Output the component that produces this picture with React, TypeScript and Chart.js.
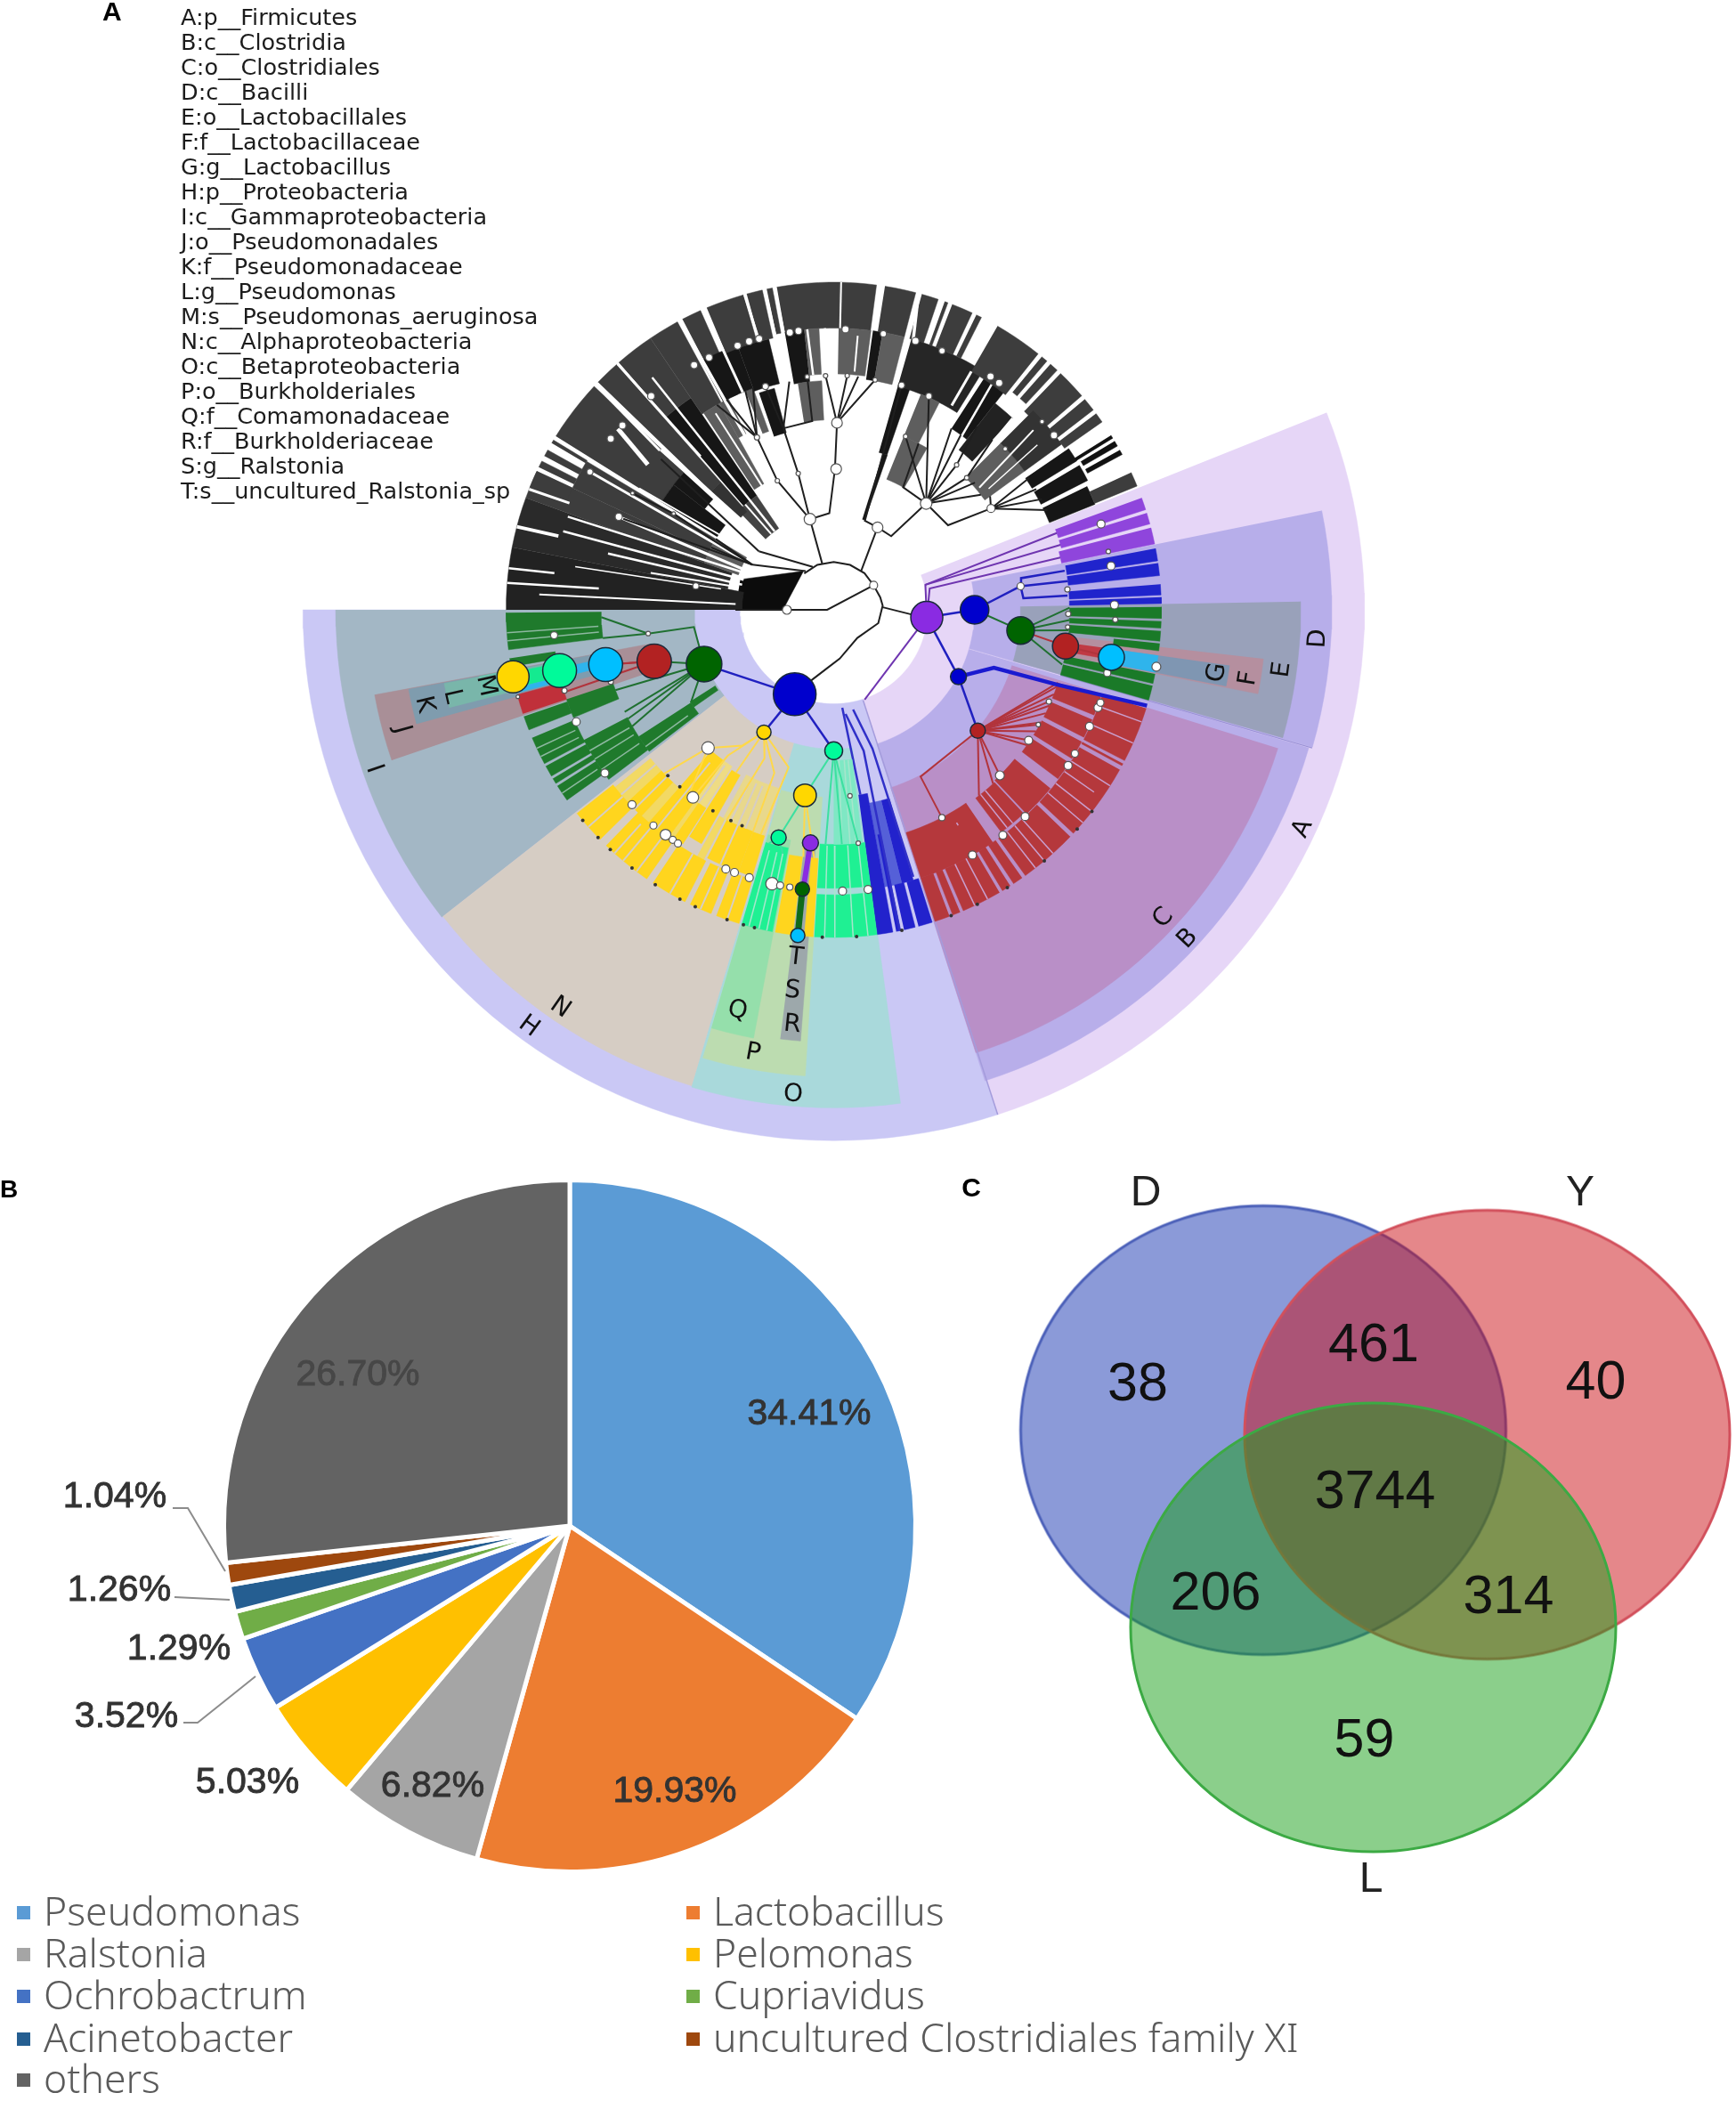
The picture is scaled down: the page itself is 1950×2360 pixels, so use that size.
import React, { useEffect, useRef } from "react";
import { Chart, registerables } from "chart.js";

Chart.register(...registerables);

/* ---------- Panel A: taxon key ---------- */
const taxonKey = [
  "A:p__Firmicutes", "B:c__Clostridia", "C:o__Clostridiales", "D:c__Bacilli", "E:o__Lactobacillales",
  "F:f__Lactobacillaceae", "G:g__Lactobacillus", "H:p__Proteobacteria", "I:c__Gammaproteobacteria",
  "J:o__Pseudomonadales", "K:f__Pseudomonadaceae", "L:g__Pseudomonas", "M:s__Pseudomonas_aeruginosa",
  "N:c__Alphaproteobacteria", "O:c__Betaproteobacteria", "P:o__Burkholderiales", "Q:f__Comamonadaceae",
  "R:f__Burkholderiaceae", "S:g__Ralstonia", "T:s__uncultured_Ralstonia_sp",
];

/* clade shading: [start angle, end angle, inner radius, outer radius, colour]; radius 1 = leaves */
const cladeSectors: any[] = [
  [21.8, -72, 0.287, 1.62, "#e6d6f7"],
  [-72, -180, 0.287, 1.62, "#cac8f5"],
  [11.5, -16, 0.43, 1.52, "#b7aeea"],
  [-16.2, -72.2, 0.43, 1.51, "#b8aeea"],
  [-17.3, -72.2, 0.57, 1.42, "#b98fc7"],
  [1, -15.9, 0.57, 1.425, "#99a1ba"],
  [-6.5, -11.2, 0.716, 1.32, "#b58f9f"],
  [-8, -11, 0.86, 1.22, "#7f96b2"],
  [-180, -141.9, 0.425, 1.52, "#a3b7c5"],
  [-141.9, -106.6, 0.425, 1.516, "#d6cdc4"],
  [-106.6, -82.3, 0.425, 1.52, "#a9d9db"],
  [-106.3, -93.5, 0.573, 1.425, "#bcdcb0"],
  [-106.3, -100.6, 0.715, 1.33, "#95dfab"],
  [-97.1, -94.4, 0.715, 1.32, "#9da8ab"],
  [-161.2, -169.5, 0.57, 1.425, "#a98f97"],
  [-164.7, -169.4, 0.715, 1.32, "#7f9cae"],
  [-165.7, -169.3, 0.857, 1.21, "#79b6aa"],
  [-166, -169.4, 1, 1.1, "#6ec0ac"],
];

const RIM = "#3d3d3d";
const DARK = "#161616";
const MID = "#5e5e5e";

/* unclassified part of the tree: [start, end, inner, outer, tone] */
const greyBlocks: any[] = [
  [180, 169, 0.28, 1, "#222222"], [169, 160, 0.33, 1, "#2a2a2a"], [160, 155, 0.42, 1, RIM], [155, 149, 0.42, 0.88, RIM],
  [158, 155, 0.88, 1, RIM], [154.2, 153, 0.88, 1, RIM], [152, 150.8, 0.88, 1, RIM], [149.4, 148.8, 0.88, 1, RIM],
  [160, 149, 0.31, 0.42, MID], [148, 137, 0.62, 1, RIM], [148, 142, 0.42, 0.62, DARK], [142, 137.5, 0.5, 0.62, DARK],
  [136, 131.5, 0.52, 1, RIM], [131, 124, 0.42, 0.78, DARK], [131, 124, 0.78, 1, RIM], [124, 118.5, 0.72, 1, RIM],
  [123.5, 119, 0.44, 0.72, MID], [134, 124, 0.3, 0.42, "#444444"], [136, 131.5, 0.4, 0.52, "#333333"],
  [119, 116.5, 0.6, 0.72, MID], [112, 110, 0.58, 0.72, MID],
  [117.5, 114, 0.72, 1, RIM], [118, 110, 0.72, 0.86, DARK], [112.8, 106, 0.85, 1, RIM], [110, 103.5, 0.71, 0.85, DARK],
  [109, 105, 0.56, 0.7, DARK], [105.4, 102.6, 0.85, 1, RIM], [101.8, 100.8, 0.86, 1, RIM], [100, 89, 0.86, 1, RIM],
  [100, 96, 0.7, 0.86, DARK], [99, 93, 0.58, 0.7, MID], [96, 93, 0.72, 0.86, MID], [89, 82.5, 0.86, 1, RIM],
  [89, 82.4, 0.72, 0.86, MID], [82, 80, 0.71, 0.86, DARK], [81, 75.5, 0.86, 1, RIM], [80, 75.5, 0.71, 0.86, MID],
  [74.4, 71.4, 0.86, 1, RIM], [74, 71, 0.5, 0.72, DARK], [72.5, 70.9, 0.29, 0.5, DARK], [74, 58, 0.71, 0.86, "#262626"],
  [70.2, 69.6, 0.86, 1, RIM], [68.8, 65, 0.86, 1, RIM], [68, 63, 0.57, 0.71, MID], [68, 60, 0.43, 0.57, MID],
  [64.2, 63.2, 0.86, 1, RIM], [60, 51.4, 0.84, 1, RIM], [57, 52, 0.66, 0.84, DARK], [52, 47, 0.62, 0.8, "#222222"],
  [50.6, 49.4, 0.86, 1, RIM], [48.6, 47, 0.86, 1, RIM], [46.2, 40.8, 0.84, 1, RIM], [45, 36, 0.57, 0.72, MID],
  [45, 36, 0.72, 0.86, "#333333"], [40, 37.6, 0.86, 1, RIM], [36.8, 35, 0.86, 1, RIM], [32.2, 31.6, 0.86, 1, "#111111"],
  [34.5, 31.5, 0.71, 0.87, DARK], [30.5, 27, 0.71, 0.87, DARK], [26, 22, 0.71, 0.86, DARK], [31, 30, 0.88, 1, "#111111"],
  [29.2, 28.3, 0.88, 1, "#111111"], [24.8, 22.2, 0.86, 1, RIM],
];

/* fan at the base of the grey part: polygon of [angle, radius] pairs */
const greyFan = [180, 0.3, 180, 0.155, 128, 0.15, 162, 0.3];

/* pale streaks over the grey part: [a1, r1, a2, r2, width] */
const greyGaps: any[] = [
  [175.3, 1, 174.8, 0.72, 2.5], [172.7, 1, 172.5, 0.86, 2.5], [165.3, 1, 165, 0.87, 4], [158.4, 1, 158, 0.87, 3],
  [150.5, 0.855, 151, 0.31, 3], [156.6, 0.715, 155.8, 0.3, 3], [160.7, 0.86, 157.4, 0.29, 2.5], [163.8, 0.86, 161.6, 0.29, 2.5],
  [166, 0.71, 164.7, 0.29, 2.5], [168.6, 0.57, 166.6, 0.3, 2], [177, 0.9, 176.6, 0.3, 2], [170.5, 0.8, 169.5, 0.35, 1.5],
  [148, 0.7, 146.5, 0.4, 2], [136.6, 1, 137.5, 0.72, 3], [140, 0.86, 142, 0.72, 5], [137, 0.72, 135.6, 0.3, 5],
  [131.3, 1, 131, 0.62, 3], [128, 0.9, 127, 0.3, 2.5], [130, 0.42, 129.5, 0.3, 2], [118, 1, 116, 0.42, 3.5], [121, 0.7, 120, 0.42, 2], [113.3, 1, 112.7, 0.72, 3],
  [105.8, 1, 105.5, 0.85, 3], [102.1, 1, 102, 0.86, 2.5], [100.4, 1, 100.2, 0.86, 2.5], [95.4, 0.86, 95, 0.72, 2.5],
  [91.8, 0.86, 91.5, 0.72, 2.5], [88.7, 1, 88.7, 0.86, 2], [85, 0.84, 85, 0.73, 2], [75, 1, 73.6, 0.86, 3.5], [60, 0.72, 60, 0.84, 3],
  [55, 0.84, 53, 0.6, 2.5], [47, 0.8, 45.8, 0.6, 2.5], [42, 0.82, 40, 0.58, 2], [39, 0.8, 38, 0.6, 1.5],
];

/* coloured leaves: [start, end, inner, outer] */
const purpleBlocks: any[] = [[20, 17.8, 0.72, 1], [17.2, 15.2, 0.72, 1], [14.5, 11.6, 0.71, 1]];
const blueTopBlocks: any[] = [[10.8, 8.6, 0.72, 1], [8.2, 6, 0.72, 1], [4.5, 2.6, 0.72, 1], [2.2, 1.1, 0.72, 1]];
const greenTopBlocks: any[] = [
  [0.5, -1.5, 0.72, 1], [-2, -3.2, 0.72, 1], [-3.7, -5.5, 0.72, 1], [-5.9, -7.2, 0.86, 1],
  [-11.3, -13, 0.72, 1], [-13.4, -16, 0.72, 1],
];
const lactoStripes: any[] = [[-8, -10.2, 0.72, 0.86]];
const lactoLeaf: any[] = [[-8, -11, 0.86, 1]];
const redBlocks: any[] = [
  [-55.6, -72, 0.715, 0.86], [-39.5, -46.6, 0.716, 0.857], [-47, -53, 0.72, 0.85], [-33, -37, 0.72, 0.857], [-28, -32, 0.72, 0.857],
  [-23, -27, 0.72, 0.857], [-18, -22, 0.72, 0.857],
  [-17.5, -27.4, 0.86, 1], [-28, -28.4, 0.86, 1], [-29.2, -43, 0.86, 1], [-43.8, -54.2, 0.86, 1],
  [-54.9, -56.7, 0.86, 1], [-57.4, -59, 0.86, 1], [-59.6, -66.7, 0.86, 1], [-67.3, -68.7, 0.86, 1], [-69.3, -72, 0.86, 1],
];
const redGaps: any[] = [
  [-20, 0.86, -20, 1], [-24, 0.86, -24, 1], [-32.5, 0.86, -32.5, 1], [-35, 0.86, -35, 0.97], [-38, 0.86, -38, 1],
  [-40.5, 0.86, -40.5, 1], [-48, 0.86, -48, 1], [-50, 0.86, -50, 1], [-52, 0.86, -52, 1], [-62, 0.86, -62, 1],
  [-64.5, 0.86, -64.5, 1], [-50, 0.72, -50, 0.85], [-51.5, 0.72, -51.5, 0.85], [-60, 0.75, -60, 0.76],
];
const blueLowBlocks: any[] = [
  [-79.6, -76, 0.6, 0.86, "#5560d8"],
  [-82.4, -79.6, 0.57, 1], [-79, -78.2, 0.7, 1], [-77.6, -75.6, 0.86, 1], [-75, -72.5, 0.86, 1], [-76, -73.6, 0.6, 0.86],
];
const tealBlocks: any[] = [
  [-93.4, -82.4, 0.716, 0.85], [-93.4, -82.4, 0.87, 1], [-106.3, -100.8, 0.74, 1], [-90, -83, 0.46, 0.716, "#7fe8c4"],
];
const tealGaps: any[] = [
  [-89.8, 0.72, -89.8, 1], [-86.6, 0.72, -86.6, 1], [-91.6, 0.72, -91.6, 1], [-84, 0.72, -84, 1],
  [-103.2, 0.76, -103.2, 1], [-105, 0.76, -105, 1], [-101.8, 0.76, -101.8, 1],
  [-88, 0.46, -88, 0.716], [-86, 0.46, -86, 0.716], [-84.5, 0.46, -84.5, 0.716],
];
const yellowBlocks: any[] = [
  [-141, -136, 0.72, 0.86, "#f2d964"], [-128, -123, 0.57, 0.72, "#eedb84"], [-119, -117.5, 0.72, 0.86, "#f2d964"],
  [-133, -124, 0.72, 0.86, "#f2d964"], [-118, -110, 0.57, 0.72, "#e8d88c"], [-110, -107, 0.72, 0.85, "#ffd51e"], [-110, -107, 0.57, 0.72, "#e8d88c"],
  [-141.6, -135.5, 0.86, 1], [-134, -124.8, 0.86, 1], [-123.5, -117, 0.86, 1], [-116, -112, 0.86, 1], [-111, -106.8, 0.86, 1],
  [-100.3, -97.2, 0.76, 1], [-95.2, -93.6, 0.76, 1],
  [-131, -126, 0.57, 0.86], [-122.5, -119.5, 0.58, 0.82], [-137, -133, 0.72, 0.86], [-117, -110, 0.72, 0.85], [-125, -122.8, 0.72, 0.85],
];
const yellowGaps: any[] = [
  [-138.5, 0.86, -138.5, 1], [-130, 0.86, -130, 1], [-127, 0.86, -127, 1], [-120, 0.86, -120, 1], [-114, 0.86, -114, 1],
  [-109, 0.86, -109, 1], [-129, 0.6, -129, 0.86], [-114, 0.58, -114, 0.85], [-135, 0.72, -135, 0.86], [-132, 0.88, -132, 1],
  [-139, 0.72, -139, 0.86], [-116, 0.58, -116, 0.72], [-112, 0.58, -112, 0.72], [-125, 0.58, -125, 0.72],
];
const greenLowBlocks: any[] = [
  [-179.5, -173, 0.71, 1], [-171.5, -170, 0.86, 1], [-161.5, -157.5, 0.71, 0.86], [-161, -158.5, 0.86, 1],
  [-157, -152, 0.86, 1], [-151.5, -149.5, 0.86, 1], [-149, -148, 0.86, 1], [-147.5, -144.5, 0.86, 1],
  [-152.5, -143, 0.71, 0.86], [-147, -142.5, 0.52, 0.71], [-147.4, -145.2, 0.43, 0.52],
];
const greenLowGaps: any[] = [
  [-176, 0.72, -176, 1], [-174.6, 0.72, -174.6, 1], [-148, 0.72, -148, 0.86], [-150, 0.72, -150, 0.86], [-145.5, 0.72, -145.5, 0.86],
  [-144, 0.55, -144, 0.71], [-155, 0.87, -155, 1], [-153.4, 0.87, -153.4, 1], [-146, 0.87, -146, 1],
];
const redLowBlocks: any[] = [[-161.5, -165, 0.86, 1]];
const tealLowBlocks: any[] = [[-166.2, -169, 0.86, 1]];
const skyLowBlocks: any[] = [[-166, -168, 0.72, 0.86], [-165.3, -166.2, 0.86, 1]];

/* branches: runs of angle, radius */
const greyBranches: number[][] = [
  [180, 0.3, 180, 0.02, 31.6, 0.143],
  [129, 0.143, 110, 0.146, 90, 0.146, 70, 0.146, 50, 0.146, 31.6, 0.143, 15, 0.147, 5, 0.15, -16.7, 0.142, -50, 0.112, -83, 0.15, -96, 0.178, -106.6, 0.22, -114.8, 0.28],
  [3, 0.15, -4.7, 0.27],
  [104, 0.146, 104.7, 0.286], [54.9, 0.146, 62, 0.285], [126, 0.146, 151, 0.284], [116, 0.146, 142, 0.29],
  [104.7, 0.286, 92.6, 0.295, 89.5, 0.43, 89, 0.571], [89, 0.571, 86.7, 0.716], [89, 0.571, 79.8, 0.713], [89, 0.571, 92, 0.715], [89, 0.571, 84, 0.716],
  [104.7, 0.286, 104.6, 0.43, 105.5, 0.575], [105.5, 0.575, 107, 0.713], [105.5, 0.575, 96.5, 0.58, 96.5, 0.716], [105.5, 0.575, 101, 0.71],
  [104.7, 0.286, 113.6, 0.43, 114, 0.576], [114, 0.576, 119.7, 0.72], [114, 0.576, 110, 0.72], [114, 0.576, 117, 0.72], [114, 0.576, 112, 0.72],
  [62, 0.285, 70.7, 0.288, 73.2, 0.716], [62, 0.285, 52, 0.285, 49, 0.43], [49, 0.43, 60.5, 0.43, 63, 0.57], [49, 0.43, 66, 0.714],
  [49, 0.43, 67.5, 0.573], [49, 0.43, 49.7, 0.58, 52, 0.71], [49, 0.43, 44.8, 0.572, 47, 0.71], [49, 0.43, 57, 0.66], [49, 0.43, 54, 0.66],
  [49, 0.43, 42, 0.58], [49, 0.43, 38, 0.57],
  [49, 0.43, 36.5, 0.434, 32.8, 0.571], [32.8, 0.571, 36, 0.59], [32.8, 0.571, 34, 0.72], [32.8, 0.571, 30.8, 0.72], [32.8, 0.571, 25, 0.72], [32.8, 0.571, 28, 0.72],
  [151, 0.284, 150, 0.43, 149, 0.57, 149.9, 0.71], [151, 0.284, 156.6, 0.7], [142, 0.29, 138.9, 0.7], [151, 0.284, 153, 0.42], [151, 0.284, 149, 0.42],
];
const purpleBranches: number[][] = [
  [-4.7, 0.285, 15.3, 0.29, 19, 0.72], [-4.7, 0.285, 12.5, 0.3, 13, 0.71], [15.3, 0.29, 16, 0.72],
  [-4.7, 0.285, -71, 0.29],
];
const blueBranches: number[][] = [
  [-4.7, 0.285, 0, 0.43], [0, 0.43, 7.2, 0.575], [7.2, 0.575, 9.6, 0.58, 9.6, 0.715], [7.2, 0.575, 7, 0.72], [7.2, 0.575, 3.5, 0.58, 3.5, 0.715],
  [-4.7, 0.285, -28.2, 0.432], [-28.2, 0.432, -40, 0.574], [-114.8, 0.284, -119.7, 0.43], [-114.8, 0.284, -90, 0.43],
  [-114.8, 0.284, -157.3, 0.43],
];
const blueLowBranches: number[][] = [
  [-83.5, 0.32, -78, 0.44, -78.4, 1], [-79, 0.31, -74.4, 0.44, -73.4, 0.85],
  [-85, 0.3, -81.8, 0.57],
];
const greenBranches: number[][] = [
  [0, 0.43, -6.3, 0.574], [-6.3, 0.574, 0.5, 0.72], [-6.3, 0.574, -2.5, 0.72], [-6.3, 0.574, -5, 0.72], [-6.3, 0.574, -13.5, 0.717],
  [-157.3, 0.429, -173, 0.43, -172.7, 0.571], [-172.7, 0.571, -178.2, 0.71], [-172.7, 0.571, -173, 0.71],
  [-157.3, 0.429, -164, 0.57], [-157.3, 0.429, -159.8, 0.71], [-157.3, 0.429, -152.1, 0.71], [-157.3, 0.429, -154, 0.71],
  [-157.3, 0.429, -150, 0.71], [-157.3, 0.429, -147, 0.52],
];
const redBranches: number[][] = [
  [-40, 0.574, -62.5, 0.574, -62.5, 0.715], [-40, 0.574, -44.9, 0.716], [-40, 0.574, -33.8, 0.716], [-40, 0.574, -29.3, 0.716],
  [-40, 0.574, -23.1, 0.714], [-40, 0.574, -18, 0.72], [-40, 0.574, -26, 0.72], [-40, 0.574, -21, 0.72],
  [-40, 0.574, -19, 0.72], [-40, 0.574, -24, 0.72], [-40, 0.574, -28.5, 0.72], [-40, 0.574, -31, 0.72], [-40, 0.574, -35, 0.72],
  [-40, 0.574, -47.5, 0.72], [-40, 0.574, -52, 0.72],
  [-164, 0.57, -166.5, 0.716], [-164, 0.57, -168, 0.86], [-164, 0.57, -163, 0.86],
  [-6.3, 0.574, -8.9, 0.716], [-8.9, 0.716, -9.7, 0.86],
];
const yellowBranches: number[][] = [
  [-119.7, 0.43, -124, 0.5, -132.3, 0.57], [-119.7, 0.43, -115, 0.5, -117, 0.72], [-119.7, 0.43, -110, 0.53, -110, 0.72],
  [-119.7, 0.43, -121, 0.58], [-132.3, 0.57, -136, 0.72], [-132.3, 0.57, -128, 0.72], [-119.7, 0.43, -106, 0.5, -108, 0.72],
  [-98.8, 0.573, -97, 0.76], [-98.8, 0.573, -94.5, 0.76], [-119.7, 0.43, -126, 0.55, -126.9, 0.716],
];
const tealBranches: number[][] = [
  [-90, 0.43, -98.8, 0.573], [-90, 0.43, -88, 0.716], [-90, 0.43, -84, 0.716], [-90, 0.43, -92, 0.716], [-98.8, 0.573, -103.6, 0.715],
  [-103.6, 0.715, -105.5, 0.74], [-103.6, 0.715, -101.8, 0.76],
];
const thickBlue = [-28.2, 0.432, -19.9, 0.52, -18.5, 0.72, -17, 1];
const rankBars: any[] = [
  [-95.7, 0.715, -96.3, 0.88, "#8a2be2", 6],
  [-96.4, 0.858, -96.3, 1, "#0f6a1a", 7],
];

/* tree nodes: angle, radius, size, colour */
const nodeAngles = [-114.8, -4.7, 0, -28.2, -6.3, -40, -8.9, -9.7, -157.3, -164, -166.5, -167.5, -168.2, -119.7, -90, -98.8, -103.6, -95.7, -96.4, -96.3];
const nodeRadii = [0.284, 0.285, 0.43, 0.432, 0.574, 0.574, 0.716, 0.86, 0.429, 0.57, 0.716, 0.857, 1, 0.43, 0.43, 0.573, 0.715, 0.715, 0.858, 1];
const nodeSizes = [24, 18, 16, 9, 15.5, 8.5, 14.6, 14.6, 20, 19.3, 19, 19, 18, 8, 10, 12.7, 8.5, 9, 8, 8];
const nodeColours = ["#0000cd", "#8a2be2", "#0000cd", "#0000cd", "#006400", "#b22222", "#b22222", "#00bfff", "#006400", "#b22222", "#00bfff", "#00fa9a", "#ffd700", "#ffd700", "#00fa9a", "#ffd700", "#00fa9a", "#8a2be2", "#006400", "#00bfff"];

/* small white tree nodes: angle, radius, size */
const whiteNodes: number[][] = [
  [180, 0.143, 5], [31.6, 0.143, 4.5], [104.7, 0.286, 6.5], [62, 0.285, 6], [49, 0.43, 6.5], [32.8, 0.571, 4.5], [89, 0.43, 6], [89, 0.571, 6],
  [130.5, 0.858, 4], [119.7, 0.86, 4], [116.3, 0.859, 4], [110, 0.858, 4], [107.5, 0.859, 4], [105.4, 0.858, 4], [99, 0.857, 4], [97.2, 0.858, 4],
  [107, 0.713, 3.5], [96.5, 0.716, 2.5], [92, 0.715, 2.5], [114, 0.576, 3], [104.6, 0.43, 2.5], [113.6, 0.43, 2.5], [138.9, 0.856, 4], [142.5, 0.858, 4],
  [150.5, 0.855, 3.5], [149.9, 0.71, 2], [156.6, 0.715, 4], [149, 0.57, 2], [170.2, 0.427, 3.5], [87.6, 0.857, 4], [79.8, 0.856, 3.5], [86.7, 0.716, 2.5],
  [79.8, 0.713, 2.5], [73.1, 0.858, 4], [67.3, 0.857, 3.5], [56.1, 0.858, 4], [53.9, 0.857, 4], [73.2, 0.716, 3.5], [66, 0.714, 3.5],
  [67.5, 0.573, 2.5], [49.7, 0.58, 2.5], [43.2, 0.718, 2.5], [42.1, 0.857, 2.5], [38.4, 0.858, 4], [44.8, 0.572, 2.5],
  [7.2, 0.575, 4], [-174.8, 0.857, 4], [-172.7, 0.571, 2.5], [-163.3, 0.858, 3], [-162.1, 0.715, 3], [-156.5, 0.857, 4.5], [-144.5, 0.858, 4.5], [-164.6, 1, 2],
  [-132.3, 0.57, 7], [-126.9, 0.716, 6.5], [-136, 0.856, 4.5], [-129.9, 0.858, 4], [-126.8, 0.857, 6], [-125, 0.857, 4], [-123.7, 0.857, 4],
  [-112.6, 0.857, 4.5], [-110.7, 0.857, 4.5], [-107.5, 0.857, 4.5], [-102.7, 0.857, 7], [-101, 0.857, 4], [-99, 0.857, 3.5],
  [-88.2, 0.859, 4.5], [-83, 0.86, 4.5], [-85, 0.57, 2.5], [-84, 0.716, 2.5],
  [-62.5, 0.715, 3.5], [-44.9, 0.716, 5], [-33.8, 0.716, 4.5], [-29.3, 0.716, 2.5], [-23.1, 0.714, 3], [-60.5, 0.86, 4.5], [-53.1, 0.86, 4.5], [-47.2, 0.86, 4.5],
  [-33.6, 0.859, 4.5], [-30.8, 0.857, 4], [-24.5, 0.858, 4.5], [-20.3, 0.86, 4.5], [-19.2, 0.862, 4],
  [-13, 0.857, 4], [-2, 0.86, 3], [-1, 0.716, 3], [-4.2, 0.716, 2.5], [-10, 1, 5], [12, 0.857, 2.5], [9, 0.857, 4.5], [5, 0.716, 3], [1, 0.857, 4.5], [17.8, 0.857, 4.5],
];
/* dark small dots on the species and genus rings */
const dotAngles = [-140, -136, -133, -128, -123, -118, -115, -109, -106, -104, -92, -86, -78, -69, -64, -58, -50, -42, -38, -135, -131, -121, -116, -113];
const dotRadii = [1, 1, 1, 1, 1, 1, 1, 1, 1, 1, 1, 1, 1, 1, 1, 1, 1, 1, 1, 0.716, 0.716, 0.716, 0.716, 0.716];

/* letters on the shaded clades: letter, angle, radius */
const cladeLetters = ["A", "B", "C", "D", "E", "F", "G", "H", "I", "J", "K", "L", "M", "N", "O", "P", "Q", "R", "S", "T"];
const cladeLetterAngles = [-25, -42.9, -43.1, -3.4, -7.6, -9.4, -9.3, -126.2, -160.9, -164.5, -167, -167.2, -167.7, -124.5, -94.8, -100.3, -103.5, -95.7, -96.2, -96.2];
const cladeLetterRadii = [1.58, 1.475, 1.378, 1.482, 1.381, 1.284, 1.186, 1.576, 1.485, 1.368, 1.283, 1.194, 1.087, 1.474, 1.485, 1.376, 1.259, 1.273, 1.17, 1.068];

/* ---------- Panel B ---------- */
const genera = ["Pseudomonas", "Lactobacillus", "Ralstonia", "Pelomonas", "Ochrobactrum", "Cupriavidus", "Acinetobacter", "uncultured Clostridiales family XI", "others"];
const generaShares = [34.41, 19.93, 6.82, 5.03, 3.52, 1.29, 1.26, 1.04, 26.7];
const generaColours = ["#5b9bd5", "#ed7d31", "#a5a5a5", "#ffc000", "#4472c4", "#70ad47", "#255e91", "#9e480e", "#636363"];
const shareLabelX = [909, 758, 486, 278, 142, 201, 134, 129, 402];
const shareLabelY = [1589, 2013, 2007, 2003, 1929, 1853, 1787, 1682, 1545];
const leaderRuns = [[206, 1935, 222, 1935, 287, 1883], [196, 1794, 258, 1797], [194, 1694, 211, 1694, 253, 1765]];
const legendColumnX = [19, 771];
const legendRowY = [2150, 2197, 2244, 2292, 2338];

/* ---------- Panel C ---------- */
const setNames = ["D", "Y", "L"];
const setCentreX = [1419, 1670.5, 1542.5];
const setCentreY = [1606.5, 1611.5, 1828];
const setFill = ["rgba(23,53,177,0.5)", "rgba(203,16,22,0.5)", "rgba(24,160,24,0.5)"];
const setEdge = ["#4a5fb8", "#d2505c", "#3caa44"];
const setNameX = [1287, 1775, 1540];
const setNameY = [1341, 1341, 2112];
const regionCounts = ["38", "461", "40", "3744", "206", "314", "59"];
const regionX = [1278, 1543, 1792.5, 1544.5, 1365.5, 1694.5, 1532.5];
const regionY = [1556, 1512, 1554, 1677, 1791.5, 1795, 1956.5];
const SET_RX = 272.5;
const SET_RY = 252;

/* ---------- Geometry ---------- */
const TREE_R = 368;
const CX = 936.5;
const CY = 685;
const AW = 1950;
const AH = 1300;
const polar = (a: number, r: number) => ({ x: r * Math.cos((a * Math.PI) / 180), y: r * Math.sin((a * Math.PI) / 180) });

function ringPoints(a1: number, a2: number, r1: number, r2: number) {
  const steps = Math.max(1, Math.ceil(Math.abs(a2 - a1) / 2));
  const out = [];
  for (let i = 0; i <= steps; i++) out.push(polar(a1 + ((a2 - a1) * i) / steps, r2));
  for (let i = steps; i >= 0; i--) out.push(polar(a1 + ((a2 - a1) * i) / steps, r1));
  return out;
}
const area = (data: any[], color: string) => ({
  data, showLine: true, fill: "shape", backgroundColor: color, borderColor: color, borderWidth: 0.5, pointRadius: 0, tension: 0,
});
const run = (pairs: number[], color: string, width: number) => {
  const data = [];
  for (let i = 0; i < pairs.length; i += 2) data.push(polar(pairs[i], pairs[i + 1]));
  return { data, showLine: true, fill: false, borderColor: color, borderWidth: width, pointRadius: 0, tension: 0 };
};
const blocks = (rows: any[], color: string) => rows.map((b) => area(ringPoints(b[0], b[1], b[2], b[3]), b[4] || color));
const gaps = (rows: number[][], color: string, width: number) => rows.map((g) => run(g.slice(0, 4), color, g[4] || width));
const runs = (rows: number[][], color: string, width: number) => rows.map((g) => run(g, color, width));

function buildTreeDatasets() {
  const pts = [];
  for (let i = 0; i < greyFan.length; i += 2) pts.push(polar(greyFan[i], greyFan[i + 1]));
  const list: any[] = [
    ...blocks(cladeSectors, ""),
    run([-72, 0.29, -72, 1.62], "#a49cdc", 1.5),
    run([-16.1, 0.72, -16.1, 1.52], "#9c94d8", 1.5),
    area(pts, "#0c0c0c"),
    ...blocks(greyBlocks, RIM),
    ...gaps(greyGaps, "#ffffff", 2.5),
    ...runs(greyBranches, "#1f1f1f", 2),
    ...blocks(purpleBlocks, "#8f45dc"),
    ...runs(purpleBranches, "#6f35b0", 2),
    ...blocks(blueTopBlocks, "#2024cc"),
    ...runs(blueBranches, "#2020c0", 2.5),
    ...blocks(greenTopBlocks, "#1a7a28"),
    ...blocks(lactoStripes, "#c03a44"),
    ...blocks(lactoLeaf, "#2fb4ec"),
    ...runs(greenBranches, "#1f7030", 2),
    ...blocks(redBlocks, "#b5383c"),
    ...gaps(redGaps, "#c99fce", 1.5),
    ...runs(redBranches, "#b2343c", 2),
    ...blocks(blueLowBlocks, "#2222cc"),
    ...runs(blueLowBranches, "#3030c8", 2.5),
    ...blocks(tealBlocks, "#1ff093"),
    ...gaps(tealGaps, "#a6e6cc", 1.5),
    ...runs(tealBranches, "#3ce0a0", 2),
    ...blocks(yellowBlocks, "#ffd51e"),
    ...gaps(yellowGaps, "#d6cdc4", 2),
    ...runs(yellowBranches, "#ffd84a", 2),
    ...blocks(greenLowBlocks, "#1f7a2c"),
    ...gaps(greenLowGaps, "#8db8a0", 1.5),
    ...blocks(redLowBlocks, "#c0303a"),
    ...blocks(tealLowBlocks, "#14ea90"),
    ...blocks(skyLowBlocks, "#2fb4ec"),
    run(thickBlue, "#1a1ad0", 4.5),
    ...rankBars.map((b) => run(b.slice(0, 4), b[4], b[5])),
    {
      data: dotAngles.map((a, i) => polar(a, dotRadii[i])), showLine: false, pointRadius: 2, pointBackgroundColor: "#333333", pointBorderWidth: 0,
    },
    {
      data: whiteNodes.map((n) => polar(n[0], n[1])), showLine: false, pointRadius: whiteNodes.map((n) => n[2]),
      pointBackgroundColor: "#ffffff", pointBorderColor: "#555555", pointBorderWidth: 1.2,
    },
    {
      data: nodeAngles.map((a, i) => polar(a, nodeRadii[i])), showLine: false, pointRadius: nodeSizes,
      pointBackgroundColor: nodeColours, pointBorderColor: "#1a2a3a", pointBorderWidth: 1.5,
    },
  ];
  return list.reverse(); // first dataset is painted last
}

const silent = { legend: { display: false }, tooltip: { enabled: false } };

function TreePanel() {
  const ref = useRef<HTMLCanvasElement>(null);
  useEffect(() => {
    const textLayer = {
      id: "treeText",
      afterDatasetsDraw(chart: any) {
        const { ctx, scales } = chart;
        ctx.save();
        ctx.textBaseline = "middle";
        ctx.textAlign = "center";
        ctx.fillStyle = "#111111";
        ctx.font = '28px "DejaVu Sans"';
        cladeLetters.forEach((t, i) => {
          const p = polar(cladeLetterAngles[i], cladeLetterRadii[i]);
          ctx.save();
          ctx.translate(scales.x.getPixelForValue(p.x), scales.y.getPixelForValue(p.y));
          ctx.rotate(((-90 - cladeLetterAngles[i]) * Math.PI) / 180);
          ctx.fillText(t, 0, 0);
          ctx.restore();
        });
        ctx.textAlign = "left";
        ctx.fillStyle = "#1c1c1c";
        ctx.font = '25.5px "DejaVu Sans"';
        taxonKey.forEach((t, i) => ctx.fillText(t, 203, 21 + i * 28));
        ctx.font = 'bold 30px "Liberation Sans"';
        ctx.fillStyle = "#000000";
        ctx.fillText("A", 115, 15);
        ctx.restore();
      },
    };
    const chart = new Chart(ref.current as any, {
      type: "scatter",
      data: { datasets: buildTreeDatasets() as any },
      options: {
        animation: false, responsive: false, maintainAspectRatio: false, events: [], layout: { padding: 0, autoPadding: false },
        plugins: silent as any,
        scales: {
          x: { type: "linear", display: false, bounds: "data", min: -CX / TREE_R, max: (AW - CX) / TREE_R },
          y: { type: "linear", display: false, bounds: "data", min: (CY - AH) / TREE_R, max: CY / TREE_R },
        },
      },
      plugins: [textLayer],
    });
    return () => chart.destroy();
  }, []);
  return <canvas ref={ref} width={AW} height={AH} style={{ position: "absolute", left: 0, top: 0 }} />;
}

function PiePanel() {
  const ref = useRef<HTMLCanvasElement>(null);
  const TOP = 1300;
  const W = 1950;
  const H = 1060;
  const PIE_X = 640;
  const PIE_Y = 1714;
  const PIE_R = 391;
  useEffect(() => {
    const overlay = {
      id: "pieText",
      afterDatasetsDraw(chart: any) {
        const { ctx } = chart;
        ctx.save();
        ctx.textBaseline = "middle";
        ctx.strokeStyle = "#8c8c8c";
        ctx.lineWidth = 2;
        leaderRuns.forEach((r) => {
          ctx.beginPath();
          for (let i = 0; i < r.length; i += 2) ctx.lineTo(r[i], r[i + 1] - TOP);
          ctx.stroke();
        });
        ctx.textAlign = "center";
        ctx.font = '41px "Liberation Sans"';
        generaShares.forEach((v, i) => {
          const c = i === 8 ? "#474747" : "#333333";
          ctx.fillStyle = c;
          ctx.strokeStyle = c;
          ctx.lineWidth = 0.9;
          const t = v.toFixed(2) + "%";
          ctx.fillText(t, shareLabelX[i], shareLabelY[i] - TOP);
          ctx.strokeText(t, shareLabelX[i], shareLabelY[i] - TOP);
        });
        ctx.textAlign = "left";
        ctx.font = '300 44.5px "Noto Sans"';
        genera.forEach((g, i) => {
          const col = i === 8 ? 0 : i % 2;
          const row = Math.floor(i / 2);
          const x = legendColumnX[col];
          const y = legendRowY[row] - TOP;
          ctx.fillStyle = generaColours[i];
          ctx.fillRect(x, y - 9, 15, 15);
          ctx.fillStyle = "#5a5a5a";
          ctx.fillText(g, x + 30, y);
        });
        ctx.font = 'bold 28px "Liberation Sans"';
        ctx.fillStyle = "#000000";
        ctx.fillText("B", 0, 1337 - TOP);
        ctx.restore();
      },
    };
    const chart = new Chart(ref.current as any, {
      type: "pie",
      data: {
        labels: genera,
        datasets: [{ data: generaShares, backgroundColor: generaColours, borderColor: "#ffffff", borderWidth: 5 }],
      },
      options: {
        animation: false, responsive: false, maintainAspectRatio: false, events: [],
        layout: {
          padding: {
            left: PIE_X - PIE_R, right: W - PIE_X - PIE_R,
            top: PIE_Y - TOP - PIE_R, bottom: H - (PIE_Y - TOP) - PIE_R,
          },
        },
        plugins: silent as any,
      },
      plugins: [overlay],
    });
    return () => chart.destroy();
  }, []);
  return <canvas ref={ref} width={W} height={H} style={{ position: "absolute", left: 0, top: TOP }} />;
}

function ovalMark(fill: string, edge: string) {
  const c = document.createElement("canvas");
  c.width = SET_RX * 2 + 8;
  c.height = SET_RY * 2 + 8;
  const g = c.getContext("2d") as CanvasRenderingContext2D;
  g.beginPath();
  g.ellipse(c.width / 2, c.height / 2, SET_RX, SET_RY, 0, 0, Math.PI * 2);
  g.fillStyle = fill;
  g.fill();
  g.strokeStyle = edge;
  g.lineWidth = 3;
  g.stroke();
  return c;
}

function VennPanel() {
  const ref = useRef<HTMLCanvasElement>(null);
  const L = 1050;
  const T = 1280;
  const W = 900;
  const H = 860;
  useEffect(() => {
    const overlay = {
      id: "vennText",
      afterDatasetsDraw(chart: any) {
        const { ctx, scales } = chart;
        ctx.save();
        ctx.textAlign = "center";
        ctx.textBaseline = "middle";
        ctx.fillStyle = "#111111";
        ctx.font = '61px "Liberation Sans"';
        regionCounts.forEach((t, i) => ctx.fillText(t, scales.x.getPixelForValue(regionX[i]), scales.y.getPixelForValue(regionY[i])));
        ctx.font = '48px "Liberation Sans"';
        ctx.fillStyle = "#222222";
        setNames.forEach((t, i) => ctx.fillText(t, scales.x.getPixelForValue(setNameX[i]), scales.y.getPixelForValue(setNameY[i])));
        ctx.font = 'bold 30px "Liberation Sans"';
        ctx.fillStyle = "#000000";
        ctx.fillText("C", scales.x.getPixelForValue(1091), scales.y.getPixelForValue(1336));
        ctx.restore();
      },
    };
    const sets = setNames.map((n, i) => ({
      label: n,
      data: [{ x: setCentreX[i], y: setCentreY[i] }],
      pointStyle: ovalMark(setFill[i], setEdge[i]),
      pointRadius: 10,
    }));
    const chart = new Chart(ref.current as any, {
      type: "scatter",
      data: { datasets: (sets as any).slice().reverse() },
      options: {
        animation: false, responsive: false, maintainAspectRatio: false, events: [], layout: { padding: 0, autoPadding: false },
        plugins: silent as any,
        scales: {
          x: { type: "linear", display: false, bounds: "data", min: L, max: L + W },
          y: { type: "linear", display: false, bounds: "data", reverse: true, min: T, max: T + H },
        },
      },
      plugins: [overlay],
    });
    return () => chart.destroy();
  }, []);
  return <canvas ref={ref} width={W} height={H} style={{ position: "absolute", left: L, top: T }} />;
}

export default function App() {
  return (
    <div style={{ position: "absolute", left: 0, top: 0, width: 1950, height: 2360, background: "#ffffff", overflow: "hidden" }}>
      <TreePanel />
      <PiePanel />
      <VennPanel />
    </div>
  );
}
